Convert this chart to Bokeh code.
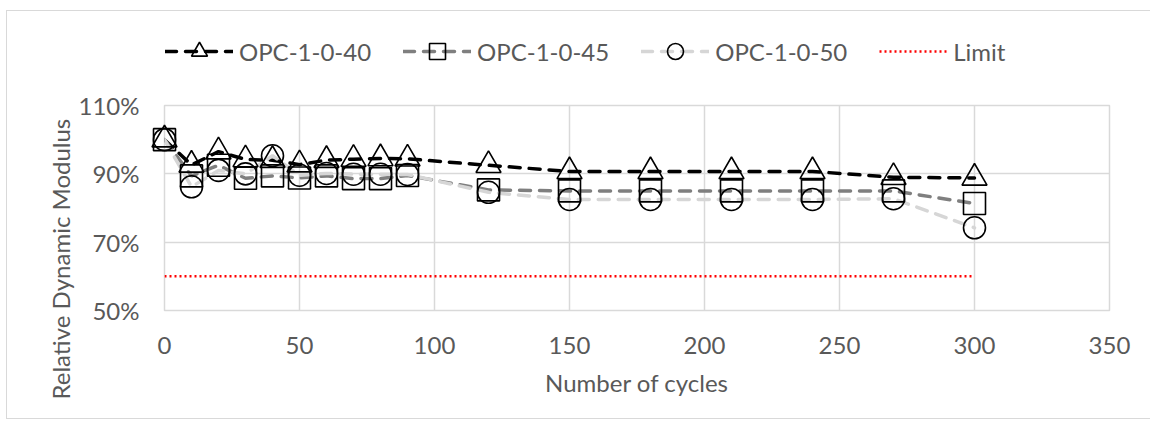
from bokeh.embed import file_html
from bokeh.resources import INLINE
from bokeh.plotting import figure
from bokeh.layouts import column
from bokeh.models import (ColumnDataSource, Legend, LegendItem, Title,
                          FixedTicker, PrintfTickFormatter, Range1d)

# Relative dynamic modulus (%) after freeze-thaw cycles
cycles = [0, 10, 20, 30, 40, 50, 60, 70, 80, 90, 120, 150, 180, 210, 240, 270, 300]
opc_1_0_40 = [100, 92.6, 96.5, 94.2, 94.0, 92.7, 94.0, 94.3, 94.5, 94.4,
              92.5, 90.7, 90.7, 90.7, 90.7, 89.0, 88.8]
opc_1_0_45 = [100, 89.4, 92.5, 88.7, 89.4, 88.8, 89.4, 88.6, 88.6, 89.5,
              85.3, 85.0, 85.0, 85.0, 85.0, 85.0, 81.3]
opc_1_0_50 = [100, 86.2, 91.0, 90.0, 95.3, 89.6, 90.1, 89.9, 89.9, 89.8,
              84.6, 82.5, 82.5, 82.5, 82.5, 82.7, 74.2]
limit_cycles = [0, 300]
limit_values = [60, 60]

x_ticks = [0, 50, 100, 150, 200, 250, 300, 350]
y_ticks = [50, 70, 90, 110]

FONT = "Lato"
TEXT = "#595959"
GRID = "#d9d9d9"

series = [
    ("OPC-1-0-40", "a", "#000000", "triangle", 25),
    ("OPC-1-0-45", "b", "#7f7f7f", "square", 22),
    ("OPC-1-0-50", "c", "#d6d6d6", "circle", 22),
]
LINE_KW = dict(line_width=3.5, line_dash="11 9", line_cap="round")
MARK_KW = dict(fill_color=None, line_color="black", line_width=1.6)
LIMIT_KW = dict(line_color="#ff0000", line_width=2.5, line_dash="2 3")

# ---- main chart -------------------------------------------------------------
p = figure(width=1146, height=333, output_backend="svg", toolbar_location=None,
           x_range=Range1d(0, 350), y_range=Range1d(50, 110),
           min_border_left=157, min_border_right=44,
           min_border_top=20, min_border_bottom=108)
p.background_fill_color = "white"
p.border_fill_color = "white"
p.outline_line_color = GRID
p.outline_line_width = 1.5

for ax in (p.xaxis, p.yaxis):
    ax.axis_line_color = None
    ax.major_tick_line_color = None
    ax.minor_tick_line_color = None
    ax.major_label_text_font = FONT
    ax.major_label_text_font_size = "24px"
    ax.major_label_text_color = TEXT

p.xaxis.ticker = FixedTicker(ticks=x_ticks)
p.yaxis.ticker = FixedTicker(ticks=y_ticks)
p.yaxis.formatter = PrintfTickFormatter(format="%d%%")
p.xaxis.major_label_standoff = 20
p.yaxis.major_label_standoff = 19

p.xaxis.axis_label = "Number of cycles"
p.xaxis.axis_label_text_font = FONT
p.xaxis.axis_label_text_font_size = "24px"
p.xaxis.axis_label_text_font_style = "normal"
p.xaxis.axis_label_text_color = TEXT
p.xaxis.axis_label_standoff = 11

p.grid.grid_line_color = GRID
p.grid.grid_line_width = 1.5
p.xgrid.ticker = FixedTicker(ticks=x_ticks)
p.ygrid.ticker = FixedTicker(ticks=y_ticks)

src = ColumnDataSource(dict(x=cycles, a=opc_1_0_40, b=opc_1_0_45, c=opc_1_0_50))
lim = ColumnDataSource(dict(x=limit_cycles, y=limit_values))

for name, col, color, marker, size in series:
    p.line("x", col, source=src, line_color=color, **LINE_KW)
for name, col, color, marker, size in series:
    # markers on the overlay level so the ones sitting on the frame edge stay whole
    p.scatter("x", col, source=src, marker=marker, size=size, level="overlay",
              **MARK_KW)
p.line("x", "y", source=lim, **LIMIT_KW)

# vertical axis title, starting a little below the frame's bottom edge
p.add_layout(Title(text="Relative Dynamic Modulus", align="left", offset=-89,
                   standoff=2, text_font=FONT, text_font_size="24px",
                   text_font_style="normal", text_color=TEXT), "left")

# ---- legend band above the chart ----------------------------------------------
lg = figure(width=1146, height=74, output_backend="svg", toolbar_location=None,
            x_range=Range1d(0, 1), y_range=Range1d(0, 1),
            x_axis_type=None, y_axis_type=None,
            min_border_left=0, min_border_right=0,
            min_border_top=0, min_border_bottom=0)
lg.outline_line_color = None
lg.grid.visible = False
lg.border_fill_color = "white"

# off-range sample point so the legend swatches have something to style from
swatch = ColumnDataSource(dict(x=[-5], y=[-5]))
items = []
for name, col, color, marker, size in series:
    ln = lg.line("x", "y", source=swatch, line_color=color, **LINE_KW)
    mk = lg.scatter("x", "y", source=swatch, marker=marker, size=size, **MARK_KW)
    items.append(LegendItem(label=name, renderers=[ln, mk]))
lim_r = lg.line("x", "y", source=swatch, **LIMIT_KW)
items.append(LegendItem(label="Limit", renderers=[lim_r]))

legend = Legend(items=items, orientation="horizontal", location=(1, 14),
                glyph_width=68, glyph_height=40, label_standoff=6, spacing=32,
                padding=0, margin=0, border_line_color=None,
                background_fill_color=None,
                label_text_font=FONT, label_text_font_size="24px",
                label_text_color=TEXT)
lg.add_layout(legend, "center")

page = column(lg, p, spacing=0)
page.margin = (10, 0, 0, 6)
page.styles = {"border": "1px solid #d9d9d9", "background-color": "white"}

open("out.html", "w").write(file_html(page, INLINE))
